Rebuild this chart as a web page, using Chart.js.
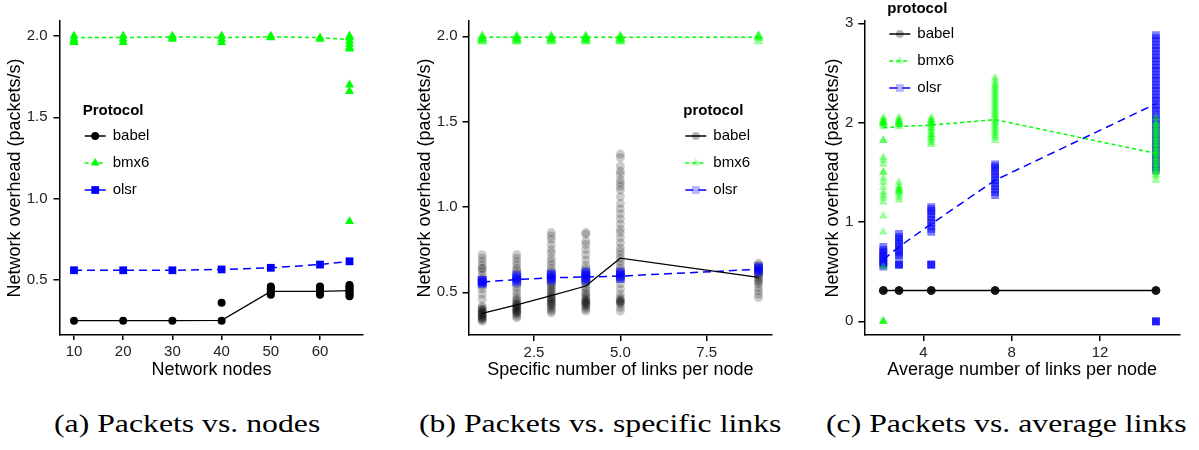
<!DOCTYPE html>
<html>
<head>
<meta charset="utf-8">
<script src="https://cdn.jsdelivr.net/npm/chart.js@4/dist/chart.umd.min.js"></script>
<style>
  body { margin: 0; background: #fff; width: 1199px; height: 450px; position: relative; overflow: hidden; }
  .panel { position: absolute; top: 0; height: 390px; }
  .cap { position: absolute; top: 410px; font-family: "Liberation Serif", serif; font-size: 25px;
         white-space: nowrap; transform-origin: 0 0; transform: scaleX(1.27); color: #000; }
</style>
</head>
<body>
<div class="panel" style="left:0;width:400px"><canvas id="chartA"></canvas></div>
<div class="panel" style="left:400px;width:400px"><canvas id="chartB"></canvas></div>
<div class="panel" style="left:800px;width:399px"><canvas id="chartC"></canvas></div>
<div class="cap" style="left:54px">(a) Packets vs. nodes</div>
<div class="cap" style="left:419px">(b) Packets vs. specific links</div>
<div class="cap" style="left:826px">(c) Packets vs. average links</div>
<script>
const FONT = '"Liberation Sans", Arial, sans-serif';
const BLACK = '#000000', GREEN = '#00ff00', BLUE = '#0000ff';

// (a) packets vs. nodes
const nodesA = [10, 20, 30, 40, 50, 60, 66];
const babelLineA = [0.25, 0.25, 0.25, 0.252, 0.43, 0.43, 0.435];
const bmx6LineA = [1.99, 1.99, 1.995, 1.99, 1.995, 1.99, 1.978];
const olsrLineA = [0.56, 0.56, 0.56, 0.565, 0.575, 0.595, 0.615];
const babelPtsA = [[0.25], [0.25], [0.25], [0.25, 0.36],
  [0.41, 0.42, 0.43, 0.44, 0.45, 0.46], [0.41, 0.42, 0.43, 0.44, 0.45, 0.46],
  [0.40, 0.41, 0.42, 0.43, 0.44, 0.45, 0.46, 0.47]];
const bmx6PtsA = [[1.96, 1.97, 1.98, 2.0], [1.96, 1.98, 2.0], [1.98, 1.99, 2.0], [1.96, 1.98, 2.0],
  [1.99, 2.0], [1.98, 1.99], [2.0, 1.99, 1.97, 1.95, 1.93, 1.92, 1.70, 1.66, 0.86]];
const olsrPtsA = [[0.56], [0.56], [0.56], [0.565], [0.575], [0.595], [0.615]];
const xTicksA = [10, 20, 30, 40, 50, 60];
const yTicksA = [0.5, 1.0, 1.5, 2.0];

// (b) packets vs. specific links
const linksB = [1, 2, 3, 4, 5, 9];
const babelLineB = [0.377, 0.426, 0.48, 0.537, 0.70, 0.588];
const bmx6LineB = [1.995, 1.995, 1.995, 1.995, 1.995, 1.995];
const olsrLineB = [0.56, 0.575, 0.585, 0.59, 0.595, 0.635];
const babelPtsB = [
  [0.72, 0.70, 0.68, 0.66, 0.64, 0.64, 0.62, 0.60, 0.58, 0.56, 0.54, 0.52, 0.49, 0.46, 0.42, 0.41, 0.40, 0.40, 0.39, 0.39, 0.38, 0.38, 0.37, 0.37, 0.36, 0.36, 0.35, 0.35, 0.34, 0.34, 0.33],
  [0.72, 0.70, 0.68, 0.66, 0.64, 0.63, 0.61, 0.58, 0.55, 0.53, 0.51, 0.49, 0.47, 0.46, 0.45, 0.44, 0.43, 0.43, 0.42, 0.42, 0.41, 0.41, 0.40, 0.40, 0.39, 0.39, 0.38, 0.38, 0.37, 0.36, 0.35],
  [0.85, 0.83, 0.81, 0.78, 0.75, 0.73, 0.70, 0.68, 0.66, 0.64, 0.62, 0.60, 0.58, 0.56, 0.55, 0.54, 0.53, 0.52, 0.51, 0.50, 0.49, 0.48, 0.47, 0.47, 0.46, 0.45, 0.45, 0.44, 0.43, 0.43, 0.42, 0.41, 0.40, 0.39, 0.38],
  [0.85, 0.84, 0.80, 0.78, 0.75, 0.72, 0.69, 0.66, 0.64, 0.62, 0.60, 0.58, 0.56, 0.55, 0.53, 0.52, 0.50, 0.49, 0.48, 0.47, 0.46, 0.45, 0.45, 0.44, 0.44, 0.43, 0.43, 0.42, 0.41, 0.40, 0.39],
  [1.31, 1.29, 1.24, 1.21, 1.19, 1.16, 1.14, 1.12, 1.10, 1.06, 1.02, 0.99, 0.96, 0.93, 0.90, 0.87, 0.85, 0.82, 0.79, 0.76, 0.74, 0.72, 0.70, 0.68, 0.66, 0.64, 0.62, 0.60, 0.58, 0.55, 0.52, 0.49, 0.47, 0.46, 0.45, 0.45, 0.44, 0.44, 0.43, 0.41, 0.39],
  [0.67, 0.66, 0.65, 0.64, 0.63, 0.62, 0.61, 0.60, 0.59, 0.58, 0.57, 0.56, 0.55, 0.53, 0.51, 0.49, 0.47]];
const bmx6PtsB = [
  [2.0, 2.0, 1.99, 1.99, 1.98, 1.98, 1.97, 1.97], [2.0, 2.0, 1.99, 1.99, 1.98, 1.98, 1.97, 1.97],
  [2.0, 2.0, 1.99, 1.99, 1.98, 1.98, 1.97, 1.97], [2.0, 2.0, 1.99, 1.99, 1.98, 1.98, 1.97, 1.97],
  [2.0, 2.0, 1.99, 1.99, 1.98, 1.98, 1.97, 1.97], [2.0, 2.0, 2.0, 1.99, 1.97]];
const olsrPtsB = [[0.55, 0.56, 0.56, 0.57, 0.57], [0.56, 0.57, 0.58, 0.59, 0.60], [0.57, 0.58, 0.59, 0.60, 0.61],
  [0.57, 0.58, 0.59, 0.60, 0.61, 0.62], [0.58, 0.59, 0.60, 0.61, 0.62], [0.62, 0.63, 0.64, 0.65]];
const xTicksB = [2.5, 5.0, 7.5];
const yTicksB = [0.5, 1.0, 1.5, 2.0];

// (c) packets vs. average links
const linksC = [2.19, 2.9, 4.36, 7.25, 14.53];
const babelLineC = [0.31, 0.31, 0.31, 0.31, 0.31];
const bmx6LineC = [1.95, 1.96, 1.975, 2.03, 1.69];
const olsrLineC = [0.62, 0.75, 0.98, 1.42, 2.19];
const babelPtsC = [[0.31, 0.31, 0.31, 0.31, 0.31], [0.31, 0.31, 0.31, 0.31, 0.31], [0.31, 0.31, 0.31, 0.31, 0.31],
  [0.31, 0.31, 0.31, 0.31, 0.31], [0.31, 0.31, 0.31, 0.31, 0.31]];
const bmx6PtsC = [
  [2.05, 2.03, 2.02, 2.01, 2.0, 2.0, 1.99, 1.98, 1.96, 1.82, 1.82, 1.65, 1.62, 1.58, 1.5, 1.5, 1.44, 1.4, 1.35, 1.3, 1.27, 1.24, 1.2, 1.06, 0.9, 0.55, 0.0, 0.0, 0.0, 0.0],
  [2.05, 2.03, 2.02, 2.01, 2.0, 2.0, 1.99, 1.98, 1.96, 1.4, 1.36, 1.34, 1.33, 1.32, 1.31, 1.3, 1.28, 1.25, 1.22],
  [2.05, 2.03, 2.02, 2.01, 2.0, 1.99, 1.97, 1.95, 1.94, 1.92, 1.9, 1.88, 1.87, 1.85, 1.84, 1.82, 1.8, 1.78],
  [2.45, 2.42, 2.39, 2.37, 2.35, 2.33, 2.31, 2.29, 2.27, 2.25, 2.23, 2.21, 2.19, 2.17, 2.15, 2.13, 2.11, 2.09, 2.07, 2.05,
   2.03, 2.01, 1.99, 1.97, 1.95, 1.93, 1.91, 1.89, 1.87, 1.85, 1.82],
  [2.05, 2.0, 1.98, 1.96, 1.94, 1.92, 1.9, 1.88, 1.86, 1.84, 1.82, 1.8, 1.78, 1.76, 1.74, 1.72, 1.7, 1.68, 1.66, 1.64,
   1.62, 1.6, 1.58, 1.56, 1.54, 1.52, 1.5, 1.48, 1.46, 1.42]];
const olsrPtsC = [
  [0.55, 0.57, 0.59, 0.6, 0.62, 0.64, 0.66, 0.68, 0.7, 0.72, 0.75],
  [0.57, 0.57, 0.57, 0.65, 0.67, 0.7, 0.72, 0.75, 0.78, 0.8, 0.83, 0.85, 0.88],
  [0.57, 0.57, 0.57, 0.9, 0.93, 0.96, 0.99, 1.02, 1.05, 1.08, 1.11, 1.13, 1.15],
  [1.27, 1.3, 1.33, 1.36, 1.39, 1.42, 1.45, 1.48, 1.51, 1.54, 1.56, 1.58],
  [0.0, 0.0, 0.0, 2.88, 2.85, 2.82, 2.78, 2.75, 2.72, 2.68, 2.65, 2.62, 2.58, 2.55, 2.52, 2.48, 2.45, 2.42, 2.38, 2.35,
   2.32, 2.28, 2.25, 2.22, 2.18, 2.15, 2.12, 2.08, 2.05, 2.02, 1.98, 1.95, 1.92, 1.88, 1.85, 1.82, 1.78, 1.75,
   1.72, 1.68, 1.65, 1.62, 1.58, 1.55, 1.52]];
const xTicksC = [4, 8, 12];
const yTicksC = [0, 1, 2, 3];

const protocols = ['babel', 'bmx6', 'olsr'];

const line = (xs, ys) => xs.map((x, i) => ({ x, y: ys[i] }));
const pts = (xs, cols) => xs.flatMap((x, i) => cols[i].map(y => ({ x, y })));

function lineSet(data, color, dash, width) {
  return { data, showLine: true, borderColor: color, borderWidth: width, borderDash: dash,
           pointRadius: 0, pointHoverRadius: 0, fill: false, tension: 0 };
}
function pointSet(data, color, style, radius) {
  return { data, showLine: false, pointStyle: style, pointRadius: radius, pointHoverRadius: radius,
           backgroundColor: color, borderColor: color, borderWidth: 0 };
}

function marker(ctx, style, x, y, r) {
  ctx.beginPath();
  if (style === 'circle') {
    ctx.arc(x, y, r, 0, Math.PI * 2);
  } else if (style === 'triangle') {
    ctx.moveTo(x, y - r);
    ctx.lineTo(x + r * 0.866, y + r / 2);
    ctx.lineTo(x - r * 0.866, y + r / 2);
    ctx.closePath();
  } else {
    const s = r * Math.SQRT1_2;
    ctx.rect(x - s, y - s, 2 * s, 2 * s);
  }
  ctx.fill();
}

const legendItems = [
  { color: BLACK, rgb: '0,0,0', dash: [], style: 'circle', r: 4 },
  { color: GREEN, rgb: '0,255,0', dash: [4, 3], style: 'triangle', r: 5 },
  { color: BLUE, rgb: '0,0,255', dash: [8, 5], style: 'rect', r: 5.5 }
];

const protoLegend = {
  id: 'protoLegend',
  afterDraw(chart, args, o) {
    const ctx = chart.ctx;
    ctx.save();
    ctx.textBaseline = 'middle';
    ctx.textAlign = 'left';
    ctx.fillStyle = '#000';
    ctx.font = 'bold 15px ' + FONT;
    ctx.fillText(o.title, o.x, o.y);
    ctx.font = '15px ' + FONT;
    legendItems.forEach((it, i) => {
      const y = o.y + 25 + 27 * i;
      ctx.strokeStyle = it.color;
      ctx.lineWidth = 1.5;
      ctx.setLineDash(it.dash);
      ctx.beginPath();
      ctx.moveTo(o.x + 2, y);
      ctx.lineTo(o.x + 23, y);
      ctx.stroke();
      ctx.setLineDash([]);
      ctx.fillStyle = 'rgba(' + it.rgb + ',' + o.alpha + ')';
      marker(ctx, it.style, o.x + 12.5, y, it.r);
      ctx.fillStyle = '#000';
      ctx.fillText(protocols[i], o.x + 30, y);
    });
    ctx.restore();
  }
};

function axis(c) {
  return {
    type: 'linear', min: c.min, max: c.max,
    afterBuildTicks: s => { s.ticks = c.ticks.map(v => ({ value: v })); },
    afterFit: s => { if (c.width) s.width = c.width; if (c.height) s.height = c.height; },
    ticks: { font: { family: FONT, size: 15 }, color: '#222', padding: c.pad, autoSkip: false,
             maxRotation: 0, callback: v => c.fmt(v) },
    grid: { display: true, drawOnChartArea: false, drawTicks: true, tickLength: c.tl, color: '#000', lineWidth: 1.5 },
    border: { display: true, color: '#000', width: 1.5 },
    title: { display: true, text: c.title, font: { family: FONT, size: 18 }, color: '#000', padding: c.tpad }
  };
}

function makeChart(id, p) {
  return new Chart(document.getElementById(id), {
    type: 'scatter',
    data: { datasets: p.datasets },
    options: {
      responsive: true, maintainAspectRatio: false, animation: false,
      layout: { padding: { top: 21, right: p.right, left: 0, bottom: 0 } },
      plugins: { legend: { display: false }, tooltip: { enabled: false }, protoLegend: p.legend },
      scales: { x: axis(p.x), y: axis(p.y) }
    },
    plugins: [protoLegend]
  });
}

makeChart('chartA', {
  right: 37,
  legend: { title: 'Protocol', x: 82.7, y: 111, alpha: 1 },
  datasets: [
    lineSet(line(nodesA, babelLineA), BLACK, [], 1.3),
    lineSet(line(nodesA, olsrLineA), BLUE, [8, 5], 1.5),
    lineSet(line(nodesA, bmx6LineA), GREEN, [4, 3], 1.5),
    pointSet(pts(nodesA, babelPtsA), BLACK, 'circle', 4),
    pointSet(pts(nodesA, olsrPtsA), BLUE, 'rect', 5.5),
    pointSet(pts(nodesA, bmx6PtsA), GREEN, 'triangle', 5.2)
  ],
  x: { min: 7.155, max: 68.74, ticks: xTicksA, fmt: v => String(v), height: 55, tl: 5, pad: 3,
       title: 'Network nodes', tpad: { top: 0, bottom: 9.5 } },
  y: { min: 0.162, max: 2.092, ticks: yTicksA, fmt: v => v.toFixed(1), width: 60, tl: 6.5, pad: 6,
       title: 'Network overhead (packets/s)', tpad: { top: 4.6, bottom: 0 } }
});

makeChart('chartB', {
  right: 28.3,
  legend: { title: 'protocol', x: 283.3, y: 111, alpha: 0.3 },
  datasets: [
    lineSet(line(linksB, babelLineB), BLACK, [], 1.3),
    lineSet(line(linksB, olsrLineB), BLUE, [8, 5], 1.5),
    lineSet(line(linksB, bmx6LineB), GREEN, [4, 3], 1.5),
    pointSet(pts(linksB, olsrPtsB), 'rgba(0,0,255,0.45)', 'rect', 6.2),
    pointSet(pts(linksB, babelPtsB), 'rgba(0,0,0,0.2)', 'circle', 4.5),
    pointSet(pts(linksB, bmx6PtsB), 'rgba(0,255,0,0.4)', 'triangle', 5.8)
  ],
  x: { min: 0.618, max: 9.382, ticks: xTicksB, fmt: v => v.toFixed(1), height: 55, tl: 6, pad: 3,
       title: 'Specific number of links per node', tpad: { top: 0, bottom: 9.5 } },
  y: { min: 0.25, max: 2.0895, ticks: yTicksB, fmt: v => v.toFixed(1), width: 69, tl: 6.5, pad: 5,
       title: 'Network overhead (packets/s)', tpad: { top: 14.5, bottom: 0 } }
});

makeChart('chartC', {
  right: 19,
  legend: { title: 'protocol', x: 87.3, y: 9, alpha: 0.3 },
  datasets: [
    lineSet(line(linksC, babelLineC), BLACK, [], 1.3),
    lineSet(line(linksC, olsrLineC), BLUE, [8, 5], 1.5),
    lineSet(line(linksC, bmx6LineC), GREEN, [4, 3], 1.5),
    pointSet(pts(linksC, babelPtsC), 'rgba(0,0,0,0.4)', 'circle', 4.3),
    pointSet(pts(linksC, bmx6PtsC), 'rgba(0,255,0,0.4)', 'triangle', 5),
    pointSet(pts(linksC, olsrPtsC), 'rgba(0,0,255,0.5)', 'rect', 5.5)
  ],
  x: { min: 1.329, max: 15.62, ticks: xTicksC, fmt: v => String(v), height: 55, tl: 6, pad: 3,
       title: 'Average number of links per node', tpad: { top: 0, bottom: 9.5 } },
  y: { min: -0.138, max: 3.023, ticks: yTicksC, fmt: v => String(v), width: 64.3, tl: 6, pad: 5,
       title: 'Network overhead (packets/s)', tpad: { top: 21.9, bottom: 0 } }
});
</script>
</body>
</html>
